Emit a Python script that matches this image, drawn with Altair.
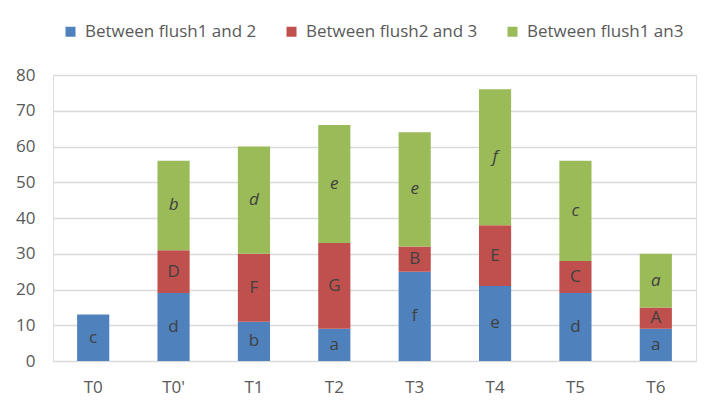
import altair as alt
import pandas as pd

categories = ["T0", "T0'", "T1", "T2", "T3", "T4", "T5", "T6"]
series = ["Between flush1 and 2", "Between flush2 and 3", "Between flush1 an3"]
s1 = [13, 19, 11, 9, 25, 21, 19, 9]
s2 = [0, 12, 19, 24, 7, 17, 9, 6]
s3 = [0, 25, 30, 33, 32, 38, 28, 15]
l1 = ["c", "d", "b", "a", "f", "e", "d", "a"]
l2 = ["", "D", "F", "G", "B", "E", "C", "A"]
l3 = ["", "b", "d", "e", "e", "f", "c", "a"]
yticks = [0, 10, 20, 30, 40, 50, 60, 70, 80]
colors = ["#4f81bd", "#c0504d", "#9bbb59"]

rows = []
for i, c in enumerate(categories):
    for k, (vals, labs) in enumerate([(s1, l1), (s2, l2), (s3, l3)]):
        if vals[i] > 0:
            rows.append({"cat": c, "series": series[k], "idx": k,
                         "value": vals[i], "label": labs[i]})
df = pd.DataFrame(rows)

FONT = "Open Sans"
TXT = "#595959"
FS = 17

xscale = alt.Scale(paddingInner=0.6, paddingOuter=0.3)
xaxis = alt.Axis(labelAngle=0, ticks=False, domainColor="#d9d9d9",
                 labelColor=TXT, labelFontSize=FS, labelFont=FONT,
                 labelPadding=18, title=None)
yscale = alt.Scale(domain=[0, 80], nice=False)
yaxis = alt.Axis(values=yticks, tickCount=9,
                 labelOverlap=False, domain=False, ticks=False,
                 gridColor="#d9d9d9", gridWidth=1.3, labelColor=TXT,
                 labelFontSize=FS, labelFont=FONT, labelPadding=18, title=None)

base = alt.Chart(df)

bars = base.mark_bar().encode(
    x=alt.X("cat:N", sort=categories, scale=xscale, axis=xaxis),
    y=alt.Y("value:Q", stack="zero", scale=yscale, axis=yaxis),
    color=alt.Color("series:N", sort=series,
                    scale=alt.Scale(domain=series, range=colors),
                    legend=alt.Legend(title=None, orient="none", direction="horizontal",
                                      columns=3, legendX=9, legendY=-52,
                                      symbolType="square", symbolSize=100,
                                      symbolStrokeWidth=0, labelFontSize=FS,
                                      labelFont=FONT, labelColor=TXT, labelLimit=400,
                                      labelOffset=6, columnPadding=26, padding=0)),
    order=alt.Order("idx:Q"),
)

stacked = base.transform_stack(
    stack="value", as_=["y0", "y1"], groupby=["cat"],
    sort=[alt.SortField("idx", order="ascending")]
).transform_calculate(mid="(datum.y0 + datum.y1) / 2")

txt_normal = stacked.transform_filter("datum.idx < 2").mark_text(
    fontSize=FS, font=FONT, color="#404040", baseline="middle"
).encode(x=alt.X("cat:N", sort=categories, scale=xscale, axis=xaxis),
         y=alt.Y("mid:Q", scale=yscale, axis=yaxis), text="label:N")

txt_italic = stacked.transform_filter("datum.idx == 2").mark_text(
    fontSize=FS, font=FONT, color="#404040", baseline="middle", fontStyle="italic"
).encode(x=alt.X("cat:N", sort=categories, scale=xscale, axis=xaxis),
         y=alt.Y("mid:Q", scale=yscale, axis=yaxis), text="label:N")

chart = alt.layer(bars, txt_normal, txt_italic).properties(
    width=643, height=286,
    autosize=alt.AutoSizeParams(type="none"),
    padding={"left": 45, "top": 67, "right": 17, "bottom": 45},
    background="white",
).configure_view(stroke=None).configure(font=FONT)

chart.save("out.html", embed_options={"renderer": "svg", "actions": False})
